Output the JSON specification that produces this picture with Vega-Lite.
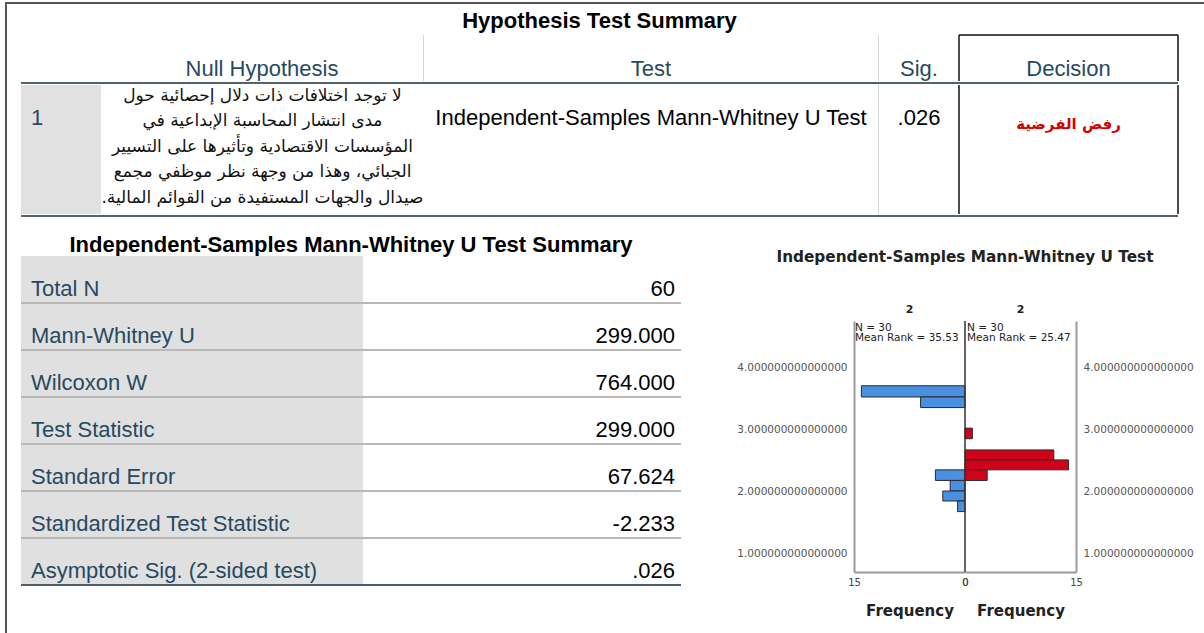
{
  "$schema": "https://vega.github.io/schema/vega-lite/v6.json",
  "background": "white",
  "padding": {"left": 5, "top": 2, "right": 0, "bottom": 0},
  "spacing": 0,
  "datasets": {
    "hypothesis": [
      {"id": "1", "nullHypothesis": "لا توجد اختلافات ذات دلال إحصائية حول\nمدى انتشار المحاسبة الإبداعية في\nالمؤسسات الاقتصادية وتأثيرها على التسيير\nالجبائي، وهذا من وجهة نظر موظفي مجمع\n.صيدال والجهات المستفيدة من القوائم المالية", "test": "Independent-Samples Mann-Whitney U Test", "sig": ".026", "decision": "رفض الفرضية"}
    ],
    "summary": [
      {"label": "Total N", "value": "60"},
      {"label": "Mann-Whitney U", "value": "299.000"},
      {"label": "Wilcoxon W", "value": "764.000"},
      {"label": "Test Statistic", "value": "299.000"},
      {"label": "Standard Error", "value": "67.624"},
      {"label": "Standardized Test Statistic", "value": "-2.233"},
      {"label": "Asymptotic Sig. (2-sided test)", "value": ".026"}
    ],
    "bins": [
      {"side": "left", "binStart": 3.52, "binEnd": 3.70, "count": 14},
      {"side": "left", "binStart": 3.35, "binEnd": 3.52, "count": 6},
      {"side": "left", "binStart": 2.18, "binEnd": 2.35, "count": 4},
      {"side": "left", "binStart": 2.01, "binEnd": 2.18, "count": 2},
      {"side": "left", "binStart": 1.85, "binEnd": 2.01, "count": 3},
      {"side": "left", "binStart": 1.68, "binEnd": 1.85, "count": 1},
      {"side": "right", "binStart": 2.85, "binEnd": 3.02, "count": 1},
      {"side": "right", "binStart": 2.51, "binEnd": 2.67, "count": 12},
      {"side": "right", "binStart": 2.35, "binEnd": 2.51, "count": 14},
      {"side": "right", "binStart": 2.18, "binEnd": 2.35, "count": 3}
    ],
    "groups": [
      {"side": "left", "group": "2", "stats": "N = 30\nMean Rank = 35.53"},
      {"side": "right", "group": "2", "stats": "N = 30\nMean Rank = 25.47"}
    ]
  },
  "vconcat": [
    {"width": 1199, "height": 2, "data": {"values": [{"part": "frame"}]}, "mark": {"type": "rect", "color": "#555555"}, "encoding": {}},
    {
      "hconcat": [
        {"width": 2, "height": 629, "data": {"values": [{"part": "frame"}]}, "mark": {"type": "rect", "color": "#555555"}, "encoding": {}},
        {
          "vconcat": [
            {
              "vconcat": [
                {"width": 1157, "height": 30, "data": {"values": [{"title": "Hypothesis Test Summary"}]}, "mark": {"type": "text", "font": "Liberation Sans", "fontSize": 22, "fontWeight": "bold", "color": "#000000", "dy": 2}, "encoding": {"text": {"field": "title", "type": "nominal"}}},
                {
                  "hconcat": [
                    {"width": 80, "height": 46, "data": {"values": [{"header": ""}]}, "mark": {"type": "text"}, "encoding": {"text": {"field": "header", "type": "nominal"}}},
                    {"width": 322, "height": 46, "data": {"values": [{"header": "Null Hypothesis"}]}, "mark": {"type": "text", "font": "Liberation Sans", "fontSize": 22, "color": "#264a60", "dy": 11}, "encoding": {"text": {"field": "header", "type": "nominal"}}},
                    {"width": 1, "height": 46, "data": {"values": [{"part": "separator"}]}, "mark": {"type": "rect", "color": "#d6d6d6"}, "encoding": {}},
                    {"width": 454, "height": 46, "data": {"values": [{"header": "Test"}]}, "mark": {"type": "text", "font": "Liberation Sans", "fontSize": 22, "color": "#264a60", "dy": 11}, "encoding": {"text": {"field": "header", "type": "nominal"}}},
                    {"width": 1, "height": 46, "data": {"values": [{"part": "separator"}]}, "mark": {"type": "rect", "color": "#d6d6d6"}, "encoding": {}},
                    {"width": 80, "height": 46, "data": {"values": [{"header": "Sig."}]}, "mark": {"type": "text", "font": "Liberation Sans", "fontSize": 22, "color": "#264a60", "dy": 11}, "encoding": {"text": {"field": "header", "type": "nominal"}}},
                    {"width": 219, "height": 46, "data": {"values": [{"header": "Decision"}]}, "layer": [
                      {"mark": {"type": "text", "font": "Liberation Sans", "fontSize": 22, "color": "#264a60", "dy": 11}, "encoding": {"text": {"field": "header", "type": "nominal"}}},
                      {"mark": {"type": "rule", "color": "#111111", "strokeWidth": 1.5}, "encoding": {"x": {"datum": 0, "type": "quantitative", "scale": {"domain": [0, 1]}, "axis": null}}},
                      {"mark": {"type": "rule", "color": "#111111", "strokeWidth": 1.5}, "encoding": {"x": {"datum": 1, "type": "quantitative", "axis": null}}},
                      {"mark": {"type": "rule", "color": "#111111", "strokeWidth": 1.5}, "encoding": {"y": {"datum": 1, "type": "quantitative", "scale": {"domain": [0, 1]}, "axis": null}}}
                    ]}
                  ],
                  "spacing": 0, "bounds": "flush"
                },
                {"width": 1157, "height": 2, "data": {"values": [{"part": "headerLine"}]}, "mark": {"type": "rect", "color": "#51636f"}, "encoding": {}},
                {
                  "hconcat": [
                    {"width": 80, "height": 129, "data": {"name": "hypothesis"}, "layer": [
                      {"mark": {"type": "rect", "color": "#e1e1e1"}, "encoding": {}},
                      {"mark": {"type": "text", "font": "Liberation Sans", "fontSize": 22, "color": "#264a60", "align": "left", "dx": -30, "dy": -31.5}, "encoding": {"text": {"field": "id", "type": "nominal"}}}
                    ]},
                    {"width": 323, "height": 129, "data": {"name": "hypothesis"}, "mark": {"type": "text", "font": "DejaVu Sans", "fontSize": 17, "color": "#111111", "lineBreak": "\n", "lineHeight": 25.5, "dy": -54}, "encoding": {"text": {"field": "nullHypothesis", "type": "nominal"}}},
                    {"width": 454, "height": 129, "data": {"name": "hypothesis"}, "mark": {"type": "text", "font": "Liberation Sans", "fontSize": 22, "color": "#010205", "dy": -31.5}, "encoding": {"text": {"field": "test", "type": "nominal"}}},
                    {"width": 1, "height": 129, "data": {"values": [{"part": "separator"}]}, "mark": {"type": "rect", "color": "#d6d6d6"}, "encoding": {}},
                    {"width": 80, "height": 129, "data": {"name": "hypothesis"}, "mark": {"type": "text", "font": "Liberation Sans", "fontSize": 22, "color": "#010205", "dy": -31.5}, "encoding": {"text": {"field": "sig", "type": "nominal"}}},
                    {"width": 219, "height": 129, "data": {"name": "hypothesis"}, "layer": [
                      {"mark": {"type": "text", "font": "DejaVu Sans", "fontSize": 15, "fontWeight": "bold", "color": "#d40000", "dy": -25.5}, "encoding": {"text": {"field": "decision", "type": "nominal"}}},
                      {"mark": {"type": "rule", "color": "#111111", "strokeWidth": 1.5}, "encoding": {"x": {"datum": 0, "type": "quantitative", "scale": {"domain": [0, 1]}, "axis": null}}},
                      {"mark": {"type": "rule", "color": "#111111", "strokeWidth": 1.5}, "encoding": {"x": {"datum": 1, "type": "quantitative", "axis": null}}}
                    ]}
                  ],
                  "spacing": 0, "bounds": "flush"
                },
                {"width": 1157, "height": 2, "data": {"values": [{"part": "bodyLine"}]}, "mark": {"type": "rect", "color": "#51636f"}, "encoding": {}}
              ],
              "spacing": 0
            },
            {
              "hconcat": [
                {
                  "vconcat": [
                    {"width": 660, "height": 22, "data": {"values": [{"title": "Independent-Samples Mann-Whitney U Test Summary"}]}, "mark": {"type": "text", "font": "Liberation Sans", "fontSize": 22, "fontWeight": "bold", "color": "#000000"}, "encoding": {"text": {"field": "title", "type": "nominal"}}},
                    {
                      "width": 660, "height": 329,
                      "data": {"name": "summary"},
                      "encoding": {"y": {"field": "label", "type": "nominal", "sort": null, "scale": {"paddingInner": 0, "paddingOuter": 0}, "axis": null}},
                      "layer": [
                        {"mark": {"type": "rect", "color": "#e0e0e0"}, "encoding": {"x": {"datum": 0, "type": "quantitative", "scale": {"domain": [0, 1]}, "axis": null}, "x2": {"datum": 0.518}}},
                        {"mark": {"type": "rule", "strokeWidth": 2}, "encoding": {"y": {"field": "label", "type": "nominal", "sort": null, "bandPosition": 1}, "color": {"condition": {"test": "datum.label === 'Asymptotic Sig. (2-sided test)'", "value": "#4c5e6b"}, "value": "#b9b9b9"}}},
                        {"mark": {"type": "text", "align": "left", "dx": 10, "font": "Liberation Sans", "fontSize": 22, "color": "#264a60"}, "encoding": {"x": {"datum": 0, "type": "quantitative", "axis": null}, "y": {"field": "label", "type": "nominal", "sort": null, "bandPosition": 0.7}, "text": {"field": "label", "type": "nominal"}}},
                        {"mark": {"type": "text", "align": "right", "dx": -6, "font": "Liberation Sans", "fontSize": 22, "color": "#010205"}, "encoding": {"x": {"datum": 1, "type": "quantitative", "axis": null}, "y": {"field": "label", "type": "nominal", "sort": null, "bandPosition": 0.7}, "text": {"field": "value", "type": "nominal"}}}
                      ]
                    }
                  ],
                  "spacing": 0
                },
                {
                  "vconcat": [
                    {"width": 222, "height": 46, "data": {"values": [{"title": "Independent-Samples Mann-Whitney U Test"}]}, "mark": {"type": "text", "font": "DejaVu Sans", "fontSize": 15.3, "fontWeight": "bold", "color": "#222222"}, "encoding": {"text": {"field": "title", "type": "nominal"}}},
                    {
                      "hconcat": [
                        {
                          "width": 111, "height": 251,
                          "title": {"text": "2", "font": "DejaVu Sans", "fontSize": 11, "fontWeight": "bold", "color": "#222222", "offset": 6, "anchor": "middle"},
                          "layer": [
                            {"data": {"name": "bins"}, "transform": [{"filter": "datum.side === 'left'"}], "mark": {"type": "rect", "fill": "#4a90e2", "stroke": "#2a2a2a", "strokeWidth": 1},
                             "encoding": {
                               "x": {"field": "count", "type": "quantitative", "scale": {"domain": [0, 15], "reverse": true, "nice": false}, "axis": {"values": [0, 5, 10, 15], "title": "Frequency", "orient": "bottom", "labelOverlap": false, "labelBound": false}},
                               "x2": {"datum": 0},
                               "y": {"field": "binStart", "type": "quantitative", "scale": {"domain": [0.71, 4.74], "nice": false, "zero": false}, "axis": {"values": [1, 2, 3, 4], "format": ".15f", "orient": "left", "title": null, "labelFontSize": 10.5, "labelColor": "#555555", "labelPadding": 7, "labelOverlap": false}},
                               "y2": {"field": "binEnd"}
                             }},
                            {"data": {"values": [{"line": "zero"}]}, "mark": {"type": "rule", "color": "#333333", "strokeWidth": 1}, "encoding": {"x": {"datum": 0, "type": "quantitative"}}},
                            {"data": {"name": "groups"}, "transform": [{"filter": "datum.side === 'left'"}], "mark": {"type": "text", "align": "left", "baseline": "top", "lineBreak": "\n", "lineHeight": 10, "font": "DejaVu Sans", "fontSize": 10.5, "color": "#222222", "dx": 1, "dy": 2},
                             "encoding": {"x": {"datum": 15, "type": "quantitative"}, "y": {"datum": 4.74, "type": "quantitative"}, "text": {"field": "stats", "type": "nominal"}}}
                          ]
                        },
                        {
                          "width": 111, "height": 251,
                          "title": {"text": "2", "font": "DejaVu Sans", "fontSize": 11, "fontWeight": "bold", "color": "#222222", "offset": 6, "anchor": "middle"},
                          "layer": [
                            {"data": {"name": "bins"}, "transform": [{"filter": "datum.side === 'right'"}], "mark": {"type": "rect", "fill": "#d0021b", "stroke": "#2a2a2a", "strokeWidth": 1},
                             "encoding": {
                               "x": {"field": "count", "type": "quantitative", "scale": {"domain": [0, 15], "nice": false}, "axis": {"values": [0, 5, 10, 15], "title": "Frequency", "orient": "bottom", "labelOverlap": false, "labelBound": false}},
                               "x2": {"datum": 0},
                               "y": {"field": "binStart", "type": "quantitative", "scale": {"domain": [0.71, 4.74], "nice": false, "zero": false}, "axis": {"values": [1, 2, 3, 4], "format": ".15f", "orient": "right", "title": null, "labelFontSize": 10.5, "labelColor": "#555555", "labelPadding": 7, "labelOverlap": false}},
                               "y2": {"field": "binEnd"}
                             }},
                            {"data": {"values": [{"line": "zero"}]}, "mark": {"type": "rule", "color": "#333333", "strokeWidth": 1}, "encoding": {"x": {"datum": 0, "type": "quantitative"}}},
                            {"data": {"name": "groups"}, "transform": [{"filter": "datum.side === 'right'"}], "mark": {"type": "text", "align": "left", "baseline": "top", "lineBreak": "\n", "lineHeight": 10, "font": "DejaVu Sans", "fontSize": 10.5, "color": "#222222", "dx": 2, "dy": 2},
                             "encoding": {"x": {"datum": 0, "type": "quantitative"}, "y": {"datum": 4.74, "type": "quantitative"}, "text": {"field": "stats", "type": "nominal"}}}
                          ]
                        }
                      ],
                      "spacing": 0, "bounds": "flush"
                    }
                  ],
                  "spacing": 23
                }
              ],
              "spacing": 54
            }
          ],
          "spacing": 17
        }
      ],
      "spacing": 13
    }
  ],
  "config": {
    "view": {"stroke": null},
    "concat": {"spacing": 0},
    "axis": {
      "labelFont": "DejaVu Sans", "labelFontSize": 10, "labelColor": "#444444", "labelFlush": false, "labelPadding": 5, "labelOverlap": false,
      "ticks": false, "grid": false, "domainColor": "#9a9a9a", "domainWidth": 2,
      "titleFont": "DejaVu Sans", "titleFontSize": 15, "titleFontWeight": "bold", "titleColor": "#222222", "titlePadding": 16
    }
  }
}
